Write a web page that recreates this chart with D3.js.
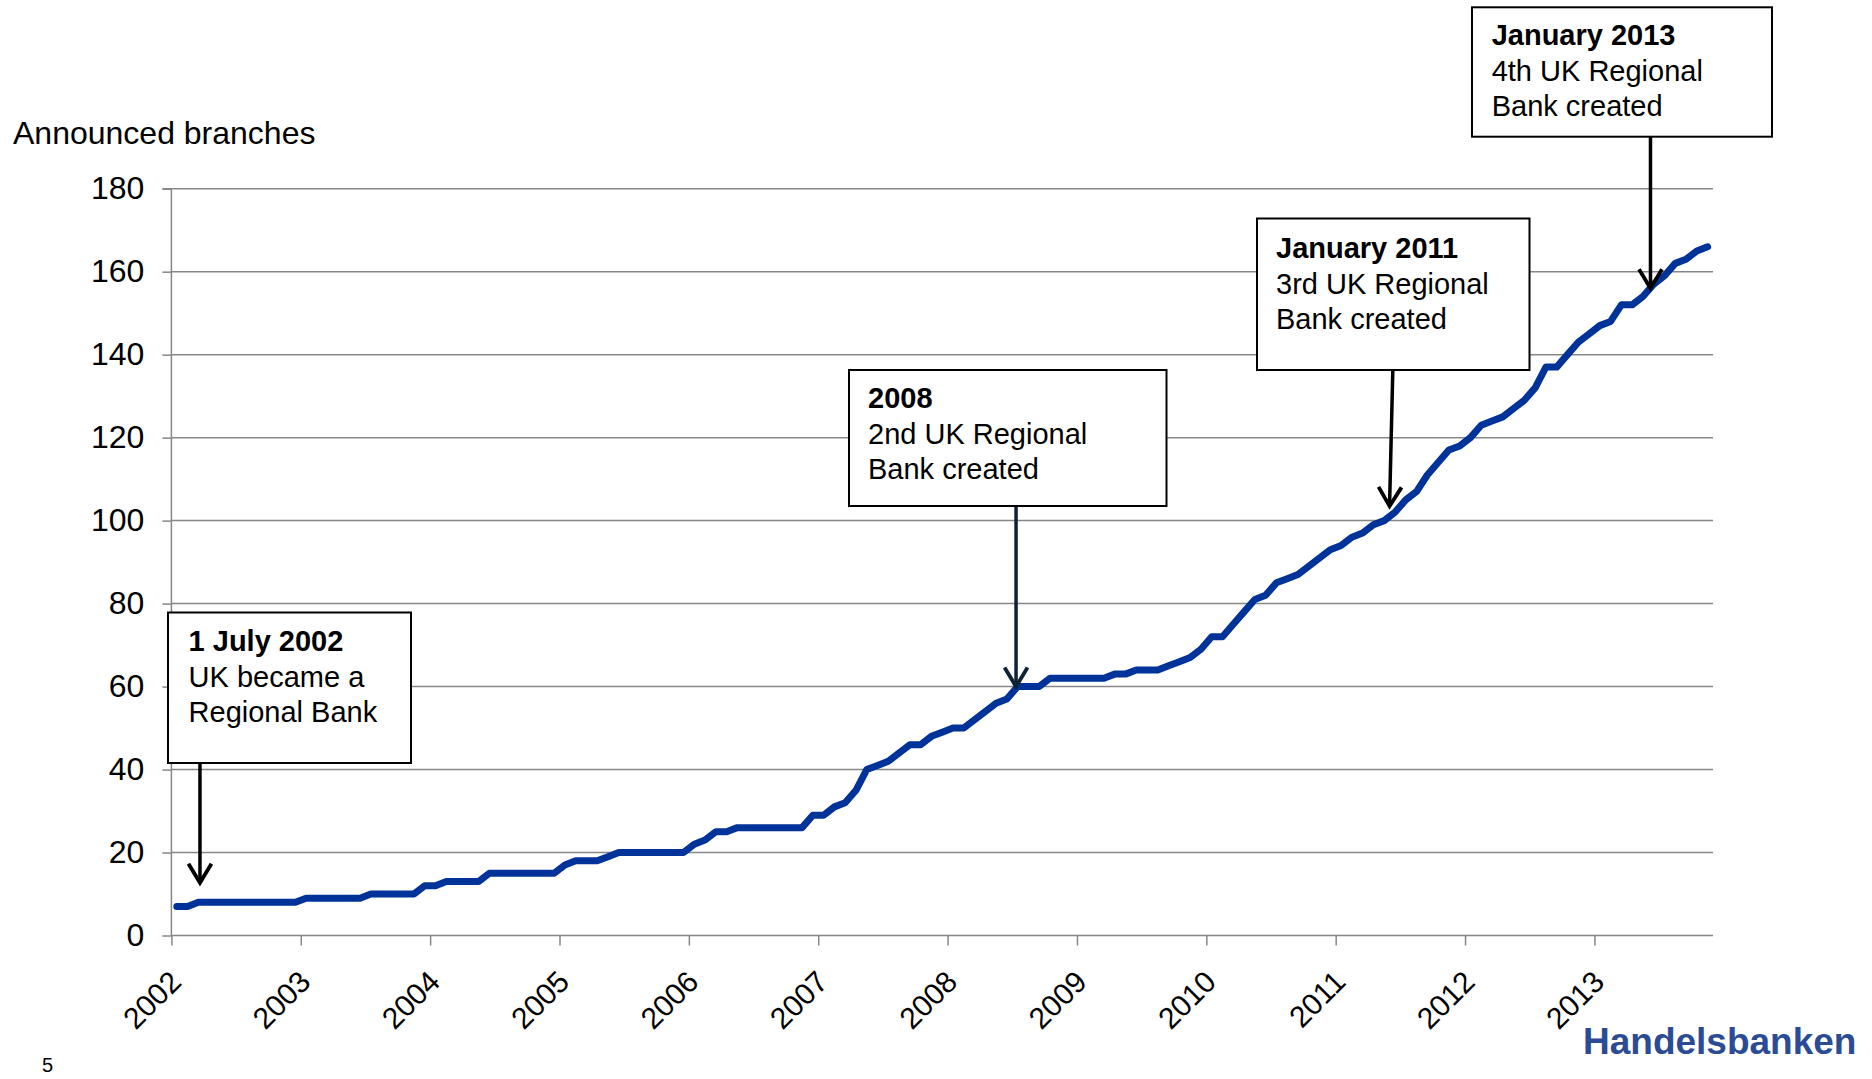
<!DOCTYPE html>
<html>
<head>
<meta charset="utf-8">
<script src="https://cdn.jsdelivr.net/npm/d3@7"></script>
<style>
  html, body { margin: 0; padding: 0; background: #fff; }
  svg { display: block; font-family: "Liberation Sans", Arial, sans-serif; }
</style>
</head>
<body>
<svg id="chart" width="1872" height="1079"></svg>
<script>
// ---------------- DATA ----------------
const yAxisTitle = "Announced branches";
const startYear = 2002;
const yearLabels = ["2002","2003","2004","2005","2006","2007","2008","2009","2010","2011","2012","2013"];
const yTicks = [0, 20, 40, 60, 80, 100, 120, 140, 160, 180];
// Monthly announced branches, Jan 2002 .. Nov 2013 (143 months)
const branches = [
  7, 7, 8, 8, 8, 8, 8, 8, 8, 8, 8, 8,            // 2002
  9, 9, 9, 9, 9, 9, 10, 10, 10, 10, 10, 12,      // 2003
  12, 13, 13, 13, 13, 15, 15, 15, 15, 15, 15, 15, // 2004
  17, 18, 18, 18, 19, 20, 20, 20, 20, 20, 20, 20, // 2005
  22, 23, 25, 25, 26, 26, 26, 26, 26, 26, 26, 29, // 2006
  29, 31, 32, 35, 40, 41, 42, 44, 46, 46, 48, 49, // 2007
  50, 50, 52, 54, 56, 57, 60, 60, 60, 62, 62, 62, // 2008
  62, 62, 62, 63, 63, 64, 64, 64, 65, 66, 67, 69, // 2009
  72, 72, 75, 78, 81, 82, 85, 86, 87, 89, 91, 93, // 2010
  94, 96, 97, 99, 100, 102, 105, 107, 111, 114, 117, 118, // 2011
  120, 123, 124, 125, 127, 129, 132, 137, 137, 140, 143, 145, // 2012
  147, 148, 152, 152, 154, 157, 159, 162, 163, 165, 166      // 2013
];
const annotationTitles = ["1 July 2002", "2008", "January 2011", "January 2013"];
const annotationLines = [
  ["UK became a", "Regional Bank"],
  ["2nd UK Regional", "Bank created"],
  ["3rd UK Regional", "Bank created"],
  ["4th UK Regional", "Bank created"]
];
const brandName = "Handelsbanken";
const pageNumber = "5";

// ---------------- DRAW ----------------
const svg = d3.select("#chart");
const nMonths = branches.length;

const x = d3.scaleLinear().domain([0, nMonths]).range([171.4, 1713]);
const y = d3.scaleLinear().domain([0, 180]).range([935.5, 188.7]);

const gridColor = "#878787";

// gridlines
svg.append("g")
  .selectAll("line")
  .data(yTicks.filter(d => d > 0))
  .join("line")
  .attr("x1", x(0)).attr("x2", x(nMonths))
  .attr("y1", d => y(d)).attr("y2", d => y(d))
  .attr("stroke", gridColor).attr("stroke-width", 1.5);

// y axis
const yAxis = d3.axisLeft(y).tickValues(yTicks).tickSize(9).tickPadding(18);
const gy = svg.append("g").attr("transform", `translate(${x(0)},0)`).call(yAxis);
gy.select(".domain").attr("stroke", gridColor).attr("stroke-width", 1.5).attr("d", `M-9,${y(180)}H0V${y(0)}`);
gy.selectAll(".tick line").attr("stroke", gridColor).attr("stroke-width", 1.5);
gy.selectAll(".tick text").attr("font-size", 32).attr("fill", "#000")
  .attr("font-family", "Liberation Sans, Arial, sans-serif");

// x axis
const yearIdx = yearLabels.map((d, i) => i * 12);
const xAxis = d3.axisBottom(x).tickValues(yearIdx).tickSize(10).tickFormat((d, i) => yearLabels[i]);
const gx = svg.append("g").attr("transform", `translate(0,${y(0)})`).call(xAxis);
gx.select(".domain").attr("stroke", gridColor).attr("stroke-width", 1.5).attr("d", `M${x(0)},0H${x(nMonths)}`);
gx.selectAll(".tick line").attr("stroke", gridColor).attr("stroke-width", 1.5);
gx.selectAll(".tick text")
  .attr("font-size", 30).attr("fill", "#000")
  .attr("font-family", "Liberation Sans, Arial, sans-serif")
  .attr("text-anchor", "end")
  .attr("y", 0).attr("dy", "0.71em")
  .attr("transform", "translate(-4,33) rotate(-45)");

// y axis title
svg.append("text")
  .attr("x", 13).attr("y", 144)
  .attr("font-size", 32).attr("fill", "#000")
  .text(yAxisTitle);

// line
const line = d3.line().x((d, i) => x(i + 0.5)).y(d => y(d));
svg.append("path")
  .datum(branches)
  .attr("d", line)
  .attr("fill", "none")
  .attr("stroke", "#003399")
  .attr("stroke-width", 7)
  .attr("stroke-linejoin", "round")
  .attr("stroke-linecap", "round");

// annotations (layout)
const boxes = [
  { x0: 168, y0: 612.5, x1: 411, y1: 763, tx: 188.6, ty: 651, ax0: x(2.65), ay0: 763, ax1: x(2.65), ay1: y(12.7), color: "#000" },
  { x0: 849, y0: 370, x1: 1166.5, y1: 506, tx: 868, ty: 408, ax0: x(78.35), ay0: 506, ax1: x(78.35), ay1: y(60), color: "#0d2236" },
  { x0: 1257, y0: 218.5, x1: 1529.5, y1: 370, tx: 1276, ty: 258, ax0: x(113.3), ay0: 370, ax1: x(113.0), ay1: y(103.5), color: "#000" },
  { x0: 1472, y0: 7.3, x1: 1772, y1: 136.7, tx: 1491.7, ty: 45, ax0: x(137.2), ay0: 136.7, ax1: x(137.2), ay1: y(156), color: "#000" }
];

const ag = svg.append("g");
boxes.forEach((b, i) => {
  // arrow shaft
  ag.append("line")
    .attr("x1", b.ax0).attr("y1", b.ay0).attr("x2", b.ax1).attr("y2", b.ay1 - 2)
    .attr("stroke", b.color).attr("stroke-width", 3.5);
  // open arrowhead
  const ang = Math.atan2(b.ay1 - b.ay0, b.ax1 - b.ax0);
  const L = 19, W = 11.5;
  const bx = b.ax1 - L * Math.cos(ang), by = b.ay1 - L * Math.sin(ang);
  const px = -Math.sin(ang) * W, py = Math.cos(ang) * W;
  ag.append("path")
    .attr("d", `M${bx + px},${by + py}L${b.ax1},${b.ay1}L${bx - px},${by - py}`)
    .attr("fill", "none").attr("stroke", b.color).attr("stroke-width", 3.8)
    .attr("stroke-linejoin", "miter");
  // box
  ag.append("rect")
    .attr("x", b.x0).attr("y", b.y0)
    .attr("width", b.x1 - b.x0).attr("height", b.y1 - b.y0)
    .attr("fill", "#fff").attr("stroke", "#000").attr("stroke-width", 2);
  // text
  ag.append("text")
    .attr("x", b.tx).attr("y", b.ty)
    .attr("font-size", 29).attr("font-weight", "bold").attr("fill", "#000")
    .text(annotationTitles[i]);
  annotationLines[i].forEach((t, j) => {
    ag.append("text")
      .attr("x", b.tx).attr("y", b.ty + 35.5 * (j + 1))
      .attr("font-size", 29).attr("fill", "#000")
      .text(t);
  });
});

// brand + page number
svg.append("text")
  .attr("x", 1583).attr("y", 1054)
  .attr("font-size", 37).attr("font-weight", "bold").attr("fill", "#2b4c95")
  .text(brandName);
svg.append("text")
  .attr("x", 42).attr("y", 1072)
  .attr("font-size", 20).attr("fill", "#000")
  .text(pageNumber);
</script>
</body>
</html>
